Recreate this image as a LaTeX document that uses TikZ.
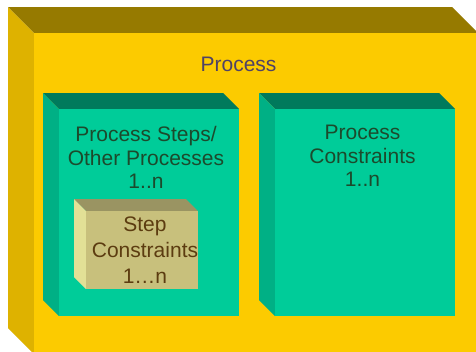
\documentclass[tikz,border=0pt]{standalone}
\usepackage{fontspec}
\setmainfont{Liberation Sans}

\definecolor{goldFront}{HTML}{FCCB00}
\definecolor{goldTop}{HTML}{967A00}
\definecolor{goldSide}{HTML}{DEB200}
\definecolor{jadeFront}{HTML}{00CC99}
\definecolor{jadeTop}{HTML}{007A5C}
\definecolor{jadeSide}{HTML}{00B085}
\definecolor{khakiFront}{HTML}{C8C07C}
\definecolor{khakiTop}{HTML}{9A9462}
\definecolor{khakiSide}{HTML}{E2E096}
\definecolor{titleInk}{HTML}{4F4266}
\definecolor{jadeInk}{HTML}{1C4A2C}
\definecolor{khakiInk}{HTML}{5C3C10}

% A box seen from the front, with its top and left faces showing.
% #1,#2 = front top-left corner, #3,#4 = front bottom-right corner,
% #5 = depth, #6/#7/#8 = front/top/side colours
\newcommand\slab[8]{%
  \fill[#7] (#1-#5,#2-#5) -- (#3-#5,#2-#5) -- (#3,#2) -- (#1,#2) -- cycle;
  \fill[#8] (#1-#5,#2-#5) -- (#1,#2) -- (#1,#4) -- (#1-#5,#4-#5) -- cycle;
  \fill[#6] (#1,#2) rectangle (#3,#4);
}

\begin{document}
\begin{tikzpicture}[x=1pt,y=-1pt,
  label/.style={inner sep=0pt, align=center, font=\fontsize{21}{23.5}\selectfont},
  steplabel/.style={label, font=\fontsize{21}{26}\selectfont}]
\useasboundingbox (0,0) rectangle (476,351);
\clip (0,0) rectangle (476,351);
\fill[white] (0,0) rectangle (476,351);

% outer container
\slab{34}{33}{478}{354}{26}{goldFront}{goldTop}{goldSide}
% the two inner compartments
\slab{59}{109}{239}{316}{16}{jadeFront}{jadeTop}{jadeSide}
\slab{275}{109}{455}{316}{16}{jadeFront}{jadeTop}{jadeSide}
% the small box inside the left compartment
\slab{86}{211}{198}{289}{12}{khakiFront}{khakiTop}{khakiSide}

\node[label, text=titleInk, anchor=base] (process) at (238.5,71.7) {Process};
\node[label, text=jadeInk, anchor=north] (steps) at (146,126.3)
  {Process Steps/\\Other Processes\\1..n};
\node[label, text=jadeInk, anchor=north] (pconstr) at (362.5,125)
  {Process\\Constraints\\1..n};
\node[steplabel, text=khakiInk, anchor=north] (sconstr) at (145,216.7)
  {Step\\Constraints\\1…n};
\end{tikzpicture}
\end{document}
